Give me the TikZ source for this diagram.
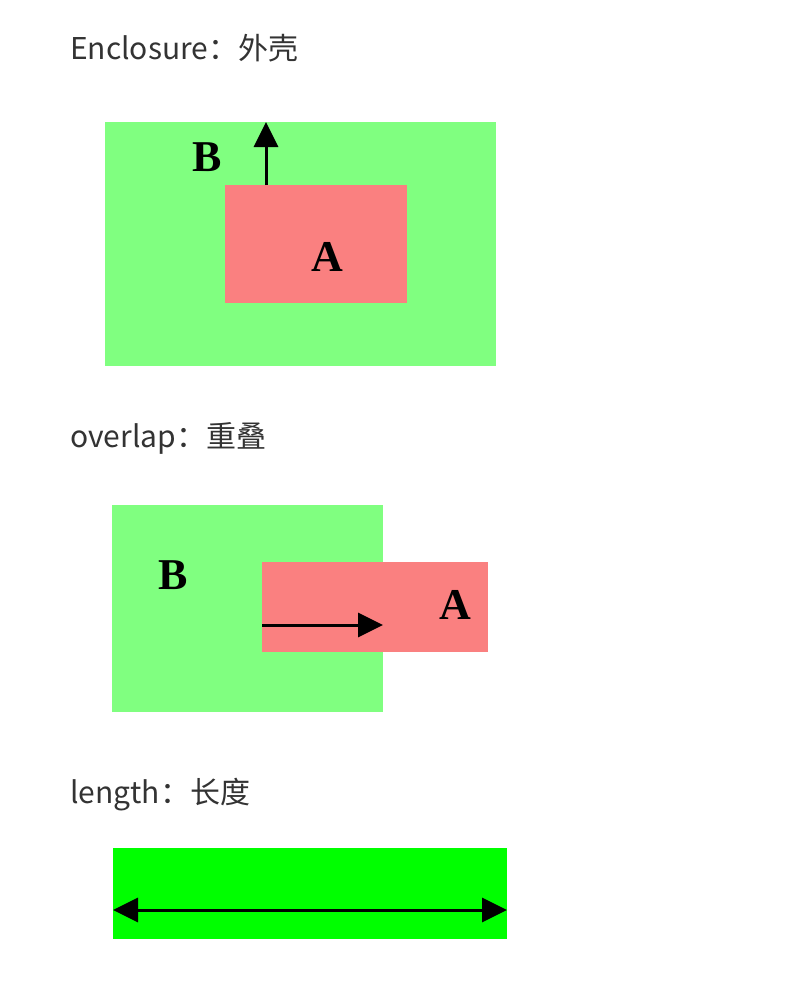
\documentclass[tikz,border=0pt]{standalone}
\usepackage{fontspec}
\setmainfont{Liberation Serif}
\newfontfamily\cjk{Noto Sans CJK SC}
\usetikzlibrary{arrows.meta}
\definecolor{boxgreen}{RGB}{128,255,128}
\definecolor{boxred}{RGB}{250,128,128}
\definecolor{bargreen}{RGB}{0,255,0}
\definecolor{titlegray}{RGB}{51,51,51}
\tikzset{>={Triangle[length=25pt,width=24pt]}}
\tikzset{
  title/.style={anchor=base west, inner sep=0pt, text=titlegray,
    font=\cjk\fontsize{30}{36}\selectfont},
  letter/.style={font=\bfseries\fontsize{44}{48}\selectfont},
  move/.style={->, line width=3pt},
}

\begin{document}
\begin{tikzpicture}[x=1pt,y=-1pt]
\useasboundingbox (0,0) rectangle (802,983);
% enclosure
\node[title] (t1) at (70,59) {Enclosure：外壳};
\fill[boxgreen] (105,122) rectangle (496,366);
\fill[boxred] (225,185) rectangle (407,303);
\coordinate (a1) at (266,185);
\coordinate (b1) at (266,122);
\draw[move] (a1) -- (b1);
\node[letter] (B1) at (207,157) {B};
\node[letter] (A1) at (327,257) {A};

% overlap
\node[title] (t2) at (70,447) {overlap：重叠};
\fill[boxgreen] (112,505) rectangle (383,712);
\fill[boxred] (262,562) rectangle (488,652);
\coordinate (a2) at (262,625);
\coordinate (b2) at (383,625);
\draw[move] (a2) -- (b2);
\node[letter] (B2) at (173,575) {B};
\node[letter] (A2) at (455,605) {A};

% length
\node[title] (t3) at (70,803) {length：长度};
\fill[bargreen] (113,848) rectangle (507,939);
\coordinate (l) at (113,910);
\coordinate (r) at (507,910);
\draw[move,<->] (l) -- (r);
\end{tikzpicture}
\end{document}
